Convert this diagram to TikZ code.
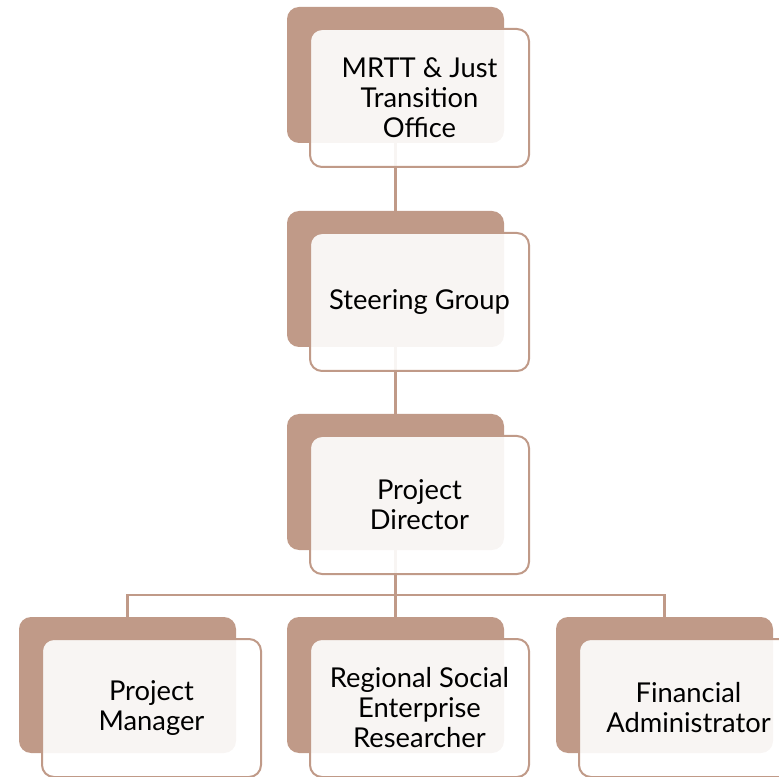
\documentclass[tikz,border=0pt]{standalone}
\usepackage{fontspec}
\setmainfont{Lato}
\definecolor{taupe}{RGB}{192,154,136}
\begin{document}
\begin{tikzpicture}[x=0.75pt,y=-0.75pt,
  backbox/.style={rectangle,rounded corners=9pt,fill=taupe,draw=none,inner sep=0pt,
    minimum width=162.75pt,minimum height=102pt},
  frontbox/.style={rectangle,rounded corners=9pt,fill=white,fill opacity=0.9,text opacity=1,
    draw=taupe,line width=1.5pt,inner sep=0pt,align=center,
    minimum width=164.25pt,minimum height=103.5pt,
    font=\fontsize{20.5pt}{22.5pt}\selectfont},
  link/.style={draw=taupe,line width=1.6pt}]
\useasboundingbox (0,0) rectangle (779,777);
\clip (0,0) rectangle (779,777);
% back boxes
\node[backbox] (Ab) at (395.5,75) {};
\node[backbox] (Bb) at (395.5,279) {};
\node[backbox] (Cb) at (395.5,482) {};
\node[backbox] (D1b) at (127.5,685) {};
\node[backbox] (D2b) at (395.5,685) {};
\node[backbox] (D3b) at (664.5,685) {};
\coordinate (bus) at (395.5,595);
% connectors (behind the front boxes)
\path[link] (Ab.south) -- (Bb.north);
\path[link] (Bb.south) -- (Cb.north);
\path[link] (Cb.south) -- (D2b.north);
\path[link] (D1b.north) -- (D1b.north |- bus) -- (D3b.north |- bus) -- (D3b.north);
% front boxes
\node[frontbox] (A) at (419.5,98) {MRTT \& Just\\Transition\\Office};
\node[frontbox] (B) at (419.5,302) {Steering Group};
\node[frontbox] (C) at (419.5,505) {Project\\Director};
\node[frontbox] (D1) at (151.5,708) {Project\\Manager};
\node[frontbox] (D2) at (419.5,708) {Regional Social\\Enterprise\\Researcher};
\node[frontbox] (D3) at (688.5,708) {Financial\\Administrator};
\end{tikzpicture}
\end{document}
